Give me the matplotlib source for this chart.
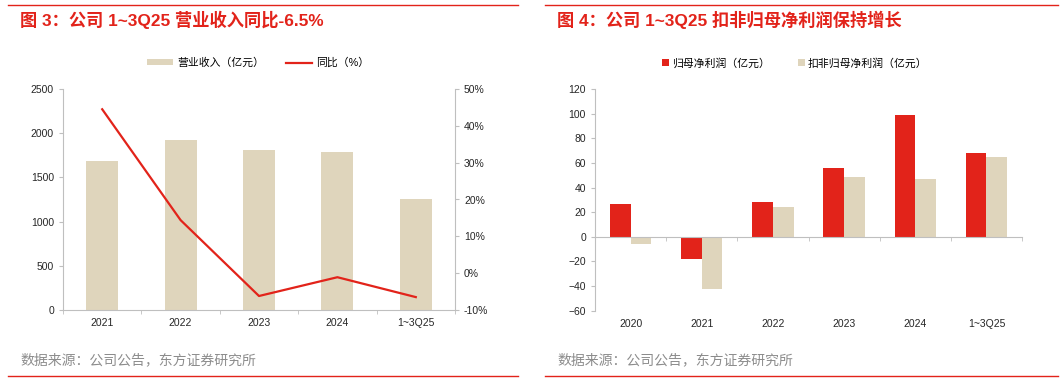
import matplotlib.pyplot as plt
from matplotlib.lines import Line2D
import numpy as np

plt.rcParams['font.family'] = ['Liberation Sans', 'Noto Sans CJK SC', 'DejaVu Sans']

# data
rev_years = ['2021', '2022', '2023', '2024', '1~3Q25']
revenue = [1682, 1923, 1810, 1791, 1252]          # 亿元
rev_yoy = [44.5, 14.4, -6.2, -1.1, -6.5]           # %

np_years = ['2020', '2021', '2022', '2023', '2024', '1~3Q25']
net_profit = [26.3, -18.4, 28.2, 56.0, 98.5, 67.9]   # 归母净利润
adj_profit = [-5.7, -42.7, 24.6, 48.7, 46.8, 64.4]   # 扣非归母净利润

RED = '#E2231A'
BEIGE = '#DFD5BC'
AXC = '#BFBFBF'
TXT = '#262626'
W, H = 1062, 381


def px(x0, y0, x1, y1):
    return [x0 / W, 1 - y1 / H, (x1 - x0) / W, (y1 - y0) / H]


fig = plt.figure(figsize=(W / 100, H / 100), dpi=100)

# titles, rules and footers
for x0, x1, title in [(8, 518, '图 3：公司 1~3Q25 营业收入同比-6.5%'),
                      (545, 1058, '图 4：公司 1~3Q25 扣非归母净利润保持增长')]:
    fig.add_artist(Line2D([x0 / W, x1 / W], [1 - 5 / H] * 2, color=RED, lw=1.0))
    fig.add_artist(Line2D([x0 / W, x1 / W], [1 - 376 / H] * 2, color=RED, lw=1.0))
    fig.text((x0 + 12) / W, 1 - 20 / H, title, color=RED, fontsize=12.4,
             fontweight='bold', va='center', ha='left')
    fig.text((x0 + 12) / W, 1 - 360 / H, '数据来源：公司公告，东方证券研究所',
             color='#8C8C8C', fontsize=10, va='center', ha='left')


def style(ax):
    for s in ['top', 'right']:
        ax.spines[s].set_visible(False)
    ax.spines['left'].set_color(AXC)
    ax.spines['bottom'].set_color(AXC)
    ax.tick_params(axis='y', colors=AXC, labelcolor=TXT, labelsize=7.5, length=3)
    ax.tick_params(axis='x', colors=AXC, labelcolor=TXT, labelsize=7.5)


# ---- left chart: revenue + yoy ----
ax1 = fig.add_axes(px(63, 89, 455, 310))
x = np.arange(len(rev_years))
ax1.bar(x, revenue, width=0.41, color=BEIGE, label='营业收入（亿元）', zorder=2)
ax1.set_xlim(-0.5, len(rev_years) - 0.5)
ax1.set_ylim(0, 2500)
ax1.set_yticks(np.arange(0, 2501, 500))
style(ax1)
ax1.set_xticks(x)
ax1.set_xticklabels(rev_years)
ax1.set_xticks(np.arange(-0.5, len(rev_years), 1), minor=True)
ax1.tick_params(axis='x', which='major', length=0, pad=6)
ax1.tick_params(axis='x', which='minor', length=3, colors=AXC)

ax1b = ax1.twinx()
ax1b.plot(x, rev_yoy, color=RED, lw=1.6, label='同比（%）', zorder=3)
ax1b.set_ylim(-10, 50)
ax1b.set_yticks(np.arange(-10, 51, 10))
ax1b.set_yticklabels([f'{v}%' for v in range(-10, 51, 10)])
for s in ['top', 'left', 'bottom']:
    ax1b.spines[s].set_visible(False)
ax1b.spines['right'].set_color(AXC)
ax1b.tick_params(axis='y', colors=AXC, labelcolor=TXT, labelsize=7.5, length=3)

h1, l1 = ax1.get_legend_handles_labels()
h2, l2 = ax1b.get_legend_handles_labels()
fig.legend(h1 + h2, l1 + l2, loc='center', bbox_to_anchor=(258 / W, 1 - 63 / H),
           ncol=2, frameon=False, fontsize=7.8, handlelength=2.4, handleheight=0.5,
           columnspacing=2.0, handletextpad=0.4)

# ---- right chart: net profit ----
ax2 = fig.add_axes(px(595, 89, 1022, 310.7))
x2 = np.arange(len(np_years))
bw = 0.29
ax2.bar(x2 - bw / 2, net_profit, width=bw, color=RED, label='归母净利润（亿元）', zorder=2)
ax2.bar(x2 + bw / 2, adj_profit, width=bw, color=BEIGE, label='扣非归母净利润（亿元）', zorder=2)
ax2.set_xlim(-0.5, len(np_years) - 0.5)
ax2.set_ylim(-60, 120)
ax2.set_yticks(np.arange(-60, 121, 20))
style(ax2)
ax2.spines['bottom'].set_position(('data', 0))
ax2.set_xticks([])
ax2.set_xticks(np.arange(-0.5, len(np_years), 1), minor=True)
ax2.tick_params(axis='x', which='minor', length=3, colors=AXC, labelbottom=False)
sec = ax2.secondary_xaxis('bottom')
sec.set_xticks(x2)
sec.set_xticklabels(np_years)
sec.spines['bottom'].set_visible(False)
sec.tick_params(axis='x', length=0, labelsize=7.5, labelcolor=TXT, pad=6)

fig.legend(*ax2.get_legend_handles_labels(), loc='center',
           bbox_to_anchor=(795 / W, 1 - 63 / H), ncol=2, frameon=False, fontsize=7.8,
           handlelength=0.6, handleheight=0.6, columnspacing=2.6, handletextpad=0.3)

fig.savefig('out.png', dpi=100)
